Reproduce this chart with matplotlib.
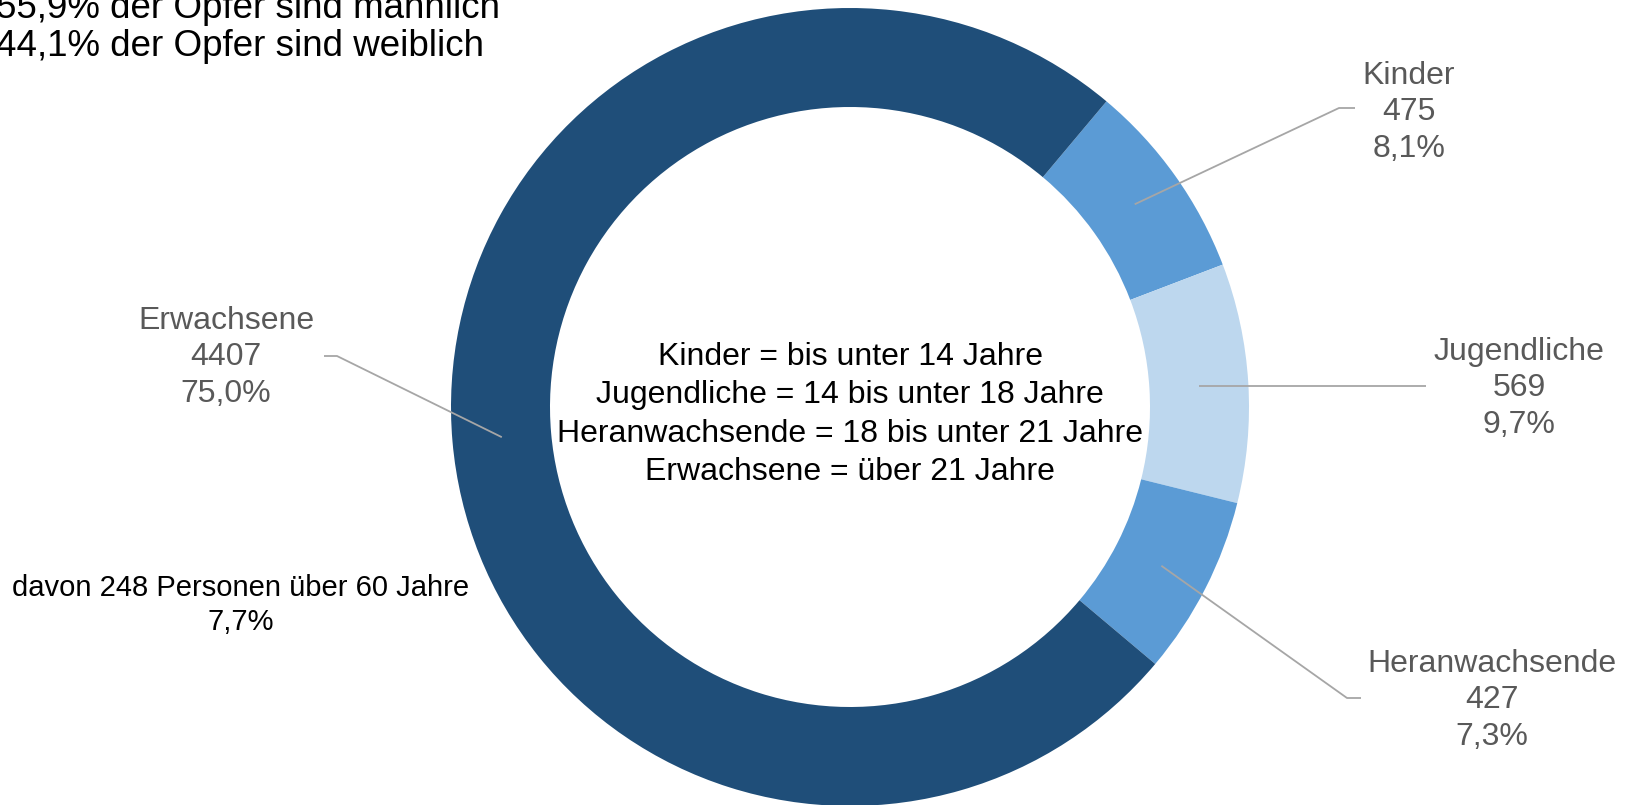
import numpy as np
import matplotlib
matplotlib.use("Agg")
import matplotlib.pyplot as plt

plt.rcParams['font.family'] = ['Liberation Sans', 'DejaVu Sans']

# --- Data ---
categories = ["Kinder", "Jugendliche", "Heranwachsende", "Erwachsene"]
counts = [475, 569, 427, 4407]
shares = ["8,1%", "9,7%", "7,3%", "75,0%"]
colors = ["#5B9BD5", "#BDD7EE", "#5B9BD5", "#1F4E79"]

gender_lines = ["55,9% der Opfer sind männlich", "44,1% der Opfer sind weiblich"]
center_lines = ["Kinder = bis unter 14 Jahre",
                "Jugendliche = 14 bis unter 18 Jahre",
                "Heranwachsende = 18 bis unter 21 Jahre",
                "Erwachsene = über 21 Jahre"]
senior_note = ["davon 248 Personen über 60 Jahre", "7,7%"]

# --- Layout (pixel coords, y measured from top) ---
W, H = 1628, 805
CX, CY, R, RING = 850, 407, 399, 99
START = 50  # degrees ccw from x axis (Kinder starts 40 deg right of 12 o'clock)

# label centre (x, y of first line), elbow and end of the leader line
label_pos = {
    "Kinder": (1409, 76, (1339, 108), (1355, 108)),
    "Jugendliche": (1519, 352, None, (1426, None)),
    "Heranwachsende": (1492, 664, (1347, 698), (1361, 698)),
    "Erwachsene": (226, 321, (337, 356), (324, 356)),
}

fig = plt.figure(figsize=(W / 100, H / 100), dpi=100)
ax = fig.add_axes([0, 0, 1, 1])


def fy(y):
    return H - y


wedges, _ = ax.pie(counts, colors=colors, startangle=START, counterclock=False,
                   radius=R, center=(CX, fy(CY)),
                   wedgeprops=dict(width=RING, edgecolor='none'))

# pie() resets the limits, so set them afterwards
ax.set_xlim(0, W)
ax.set_ylim(0, H)
ax.set_aspect('equal')
ax.axis('off')

line_color = '#A6A6A6'
label_color = '#595959'
fs = 23
lh = 36.5

for w, cat, n, pct in zip(wedges, categories, counts, shares):
    mid = np.deg2rad((w.theta1 + w.theta2) / 2)
    rmid = R - RING / 2
    sx, sy = CX + rmid * np.cos(mid), fy(CY) + rmid * np.sin(mid)
    tx, ty, elbow, end = label_pos[cat]
    xs, ys = [sx], [sy]
    if elbow is not None:
        xs.append(elbow[0]); ys.append(fy(elbow[1]))
    xs.append(end[0]); ys.append(sy if end[1] is None else fy(end[1]))
    ax.plot(xs, ys, color=line_color, lw=1.3, solid_capstyle='butt')
    for i, s in enumerate([cat, str(n), pct]):
        ax.text(tx, fy(ty + i * lh), s, ha='center', va='center',
                fontsize=fs, color=label_color)

for i, s in enumerate(center_lines):
    ax.text(CX, fy(357 + i * 38.5), s, ha='center', va='center',
            fontsize=23, color='black')

for i, s in enumerate(senior_note):
    ax.text(241, fy(588 + i * 34.5), s, ha='center', va='center',
            fontsize=21, color='black')

for i, s in enumerate(gender_lines):
    ax.text(-4, fy(9 + i * 37), s, ha='left', va='center',
            fontsize=26.5, color='black')

fig.savefig("out.png", dpi=100)
